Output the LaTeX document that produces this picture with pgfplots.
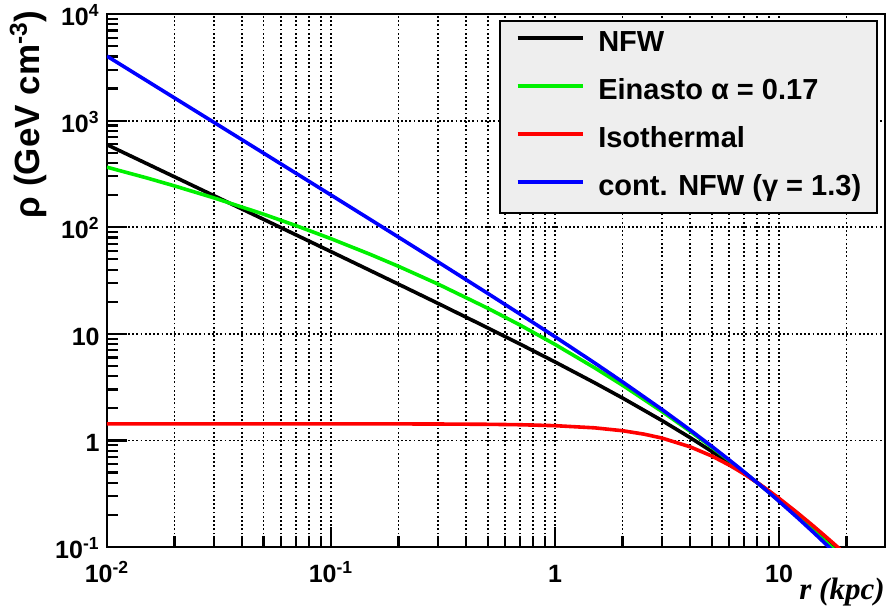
\documentclass[border=0pt]{standalone}
\usepackage{fontspec}
\setmainfont{Liberation Sans}
\newfontfamily\lserif{Liberation Serif}
\usepackage{pgfplots}
\pgfplotsset{compat=1.18}
\definecolor{lgray}{RGB}{238,238,238}
\definecolor{rgreen}{RGB}{0,240,0}
\begin{document}
\begin{tikzpicture}
\begin{axis}[
  scale only axis, width=389pt, height=266.5pt,
  xmode=log, ymode=log,
  xmin=0.01, xmax=29.7, ymin=0.1, ymax=10000,
  axis line style={line width=1.3pt},
  tick align=inside, tick pos=left,
  major tick length=10pt, minor tick length=5.5pt,
  tick style={black, line width=1.1pt},
  xtick={0.01,0.1,1,10},
  xticklabels={10\textsuperscript{-2},10\textsuperscript{-1},1,10},
  minor xtick={0.02,0.03,0.04,0.05,0.06,0.07,0.08,0.09,0.2,0.3,0.4,0.5,0.6,0.7,0.8,0.9,2,3,4,5,6,7,8,9,20},
  ytick={0.1,1,10,100,1000,10000},
  yticklabels={10\textsuperscript{-1},1,10,10\textsuperscript{2},10\textsuperscript{3},10\textsuperscript{4}},
  minor ytick={0.2,0.3,0.4,0.5,0.6,0.7,0.8,0.9,2,3,4,5,6,7,8,9,20,30,40,50,60,70,80,90,200,300,400,500,600,700,800,900,2000,3000,4000,5000,6000,7000,8000,9000},
  xmajorgrids, xminorgrids, ymajorgrids,
  grid style={black, line width=0.9pt, dash pattern=on 0.9pt off 1.2pt},
  xticklabel style={anchor=base, yshift=-17.5pt, inner sep=0pt, font=\fontsize{12.5}{15}\selectfont\bfseries},
  yticklabel style={anchor=base east, yshift=-5.75pt, xshift=-3.5pt, inner sep=0pt, font=\fontsize{12.5}{15}\selectfont\bfseries},
  xlabel={\lserif\bfseries\itshape r (kpc)},
  xlabel style={at={(rel axis cs:1,-0.058)}, anchor=north east, inner sep=0pt, font=\fontsize{15.5}{18}\selectfont},
  ylabel={ρ (GeV cm\textsuperscript{-3})},
  ylabel style={at={(rel axis cs:-0.077,1.0075)}, anchor=south east, inner sep=0pt, font=\fontsize{17.5}{20}\selectfont\bfseries},
  legend style={at={(0.991,0.9887)}, anchor=north east, draw=black, line width=0.8pt, fill=lgray,
    inner xsep=8pt, inner ysep=5.5pt, font=\fontsize{14.5}{17}\selectfont\bfseries, row sep=11pt,
    nodes={inner sep=0pt, text height=10pt, text depth=3pt},
    /tikz/every odd column/.append style={column sep=7pt}},
  legend cell align=left,
  legend image code/.code={\draw[#1, line width=1.7pt] (0pt,3.5pt) -- (32.5pt,3.5pt);},
  every axis plot/.append style={line width=1.8pt, line join=round},
]
\addplot[black] coordinates {(0.01,594.5)(0.015,396.2)(0.02,297.0)(0.03,197.8)(0.05,118.5)(0.07,84.47)(0.1,58.97)(0.15,39.13)(0.2,29.22)(0.3,19.31)(0.5,11.38)(0.7,7.984)(1,5.444)(1.5,3.477)(2,2.500)(3,1.536)(4,1.065)(5,0.7901)(6,0.6122)(7,0.4892)(8,0.4000)(9,0.3330)(10,0.2812)(12,0.2076)(14,0.1587)(15,0.1403)(16,0.1247)(17,0.1114)(18,0.1000)(19,0.0902)(20,0.0816)};
\addlegendentry{NFW}
\addplot[rgreen] coordinates {(0.01,365.6)(0.015,290.5)(0.02,244.1)(0.03,188.5)(0.05,132.5)(0.07,103.2)(0.1,78.0)(0.15,55.5)(0.2,42.98)(0.3,29.31)(0.5,17.40)(0.7,12.04)(1,7.95)(1.5,4.806)(2,3.292)(3,1.869)(4,1.221)(5,0.8646)(6,0.6458)(7,0.5010)(8,0.4000)(9,0.3265)(10,0.2713)(12,0.1954)(14,0.1468)(15,0.1289)(16,0.1140)(17,0.1014)(18,0.0907)(19,0.0815)(20,0.0736)};
\addlegendentry{Einasto α = 0.17}
\addplot[red] coordinates {(0.01,1.430)(0.1,1.429)(0.2,1.428)(0.3,1.425)(0.5,1.416)(0.7,1.403)(1,1.375)(1.5,1.312)(2,1.233)(2.5,1.144)(3,1.052)(4,0.872)(5,0.715)(6,0.586)(7,0.483)(8,0.4017)(9,0.3373)(10,0.286)(12,0.2115)(14,0.1618)(15,0.143)(16,0.1272)(17,0.1139)(18,0.1024)(19,0.0926)(20,0.0841)};
\addlegendentry{Isothermal}
\addplot[blue] coordinates {(0.01,4025)(0.015,2375)(0.02,1633)(0.03,963.4)(0.05,495.2)(0.07,319.2)(0.1,200.3)(0.15,117.8)(0.2,80.74)(0.3,47.30)(0.5,23.98)(0.7,15.25)(1,9.382)(1.5,5.339)(2,3.544)(3,1.952)(4,1.256)(5,0.8816)(6,0.6539)(7,0.5041)(8,0.4000)(9,0.3248)(10,0.2682)(12,0.1909)(14,0.1418)(15,0.1237)(16,0.1087)(17,0.0962)(18,0.0855)(20,0.0686)};
\addlegendentry{cont. NFW (γ = 1.3)}
\coordinate (bl) at (rel axis cs:-0.13753,-0.12383);
\coordinate (tr) at (rel axis cs:1.00514,1.02627);
\end{axis}
\pgfresetboundingbox
\path (bl) rectangle (tr);
\end{tikzpicture}
\end{document}
